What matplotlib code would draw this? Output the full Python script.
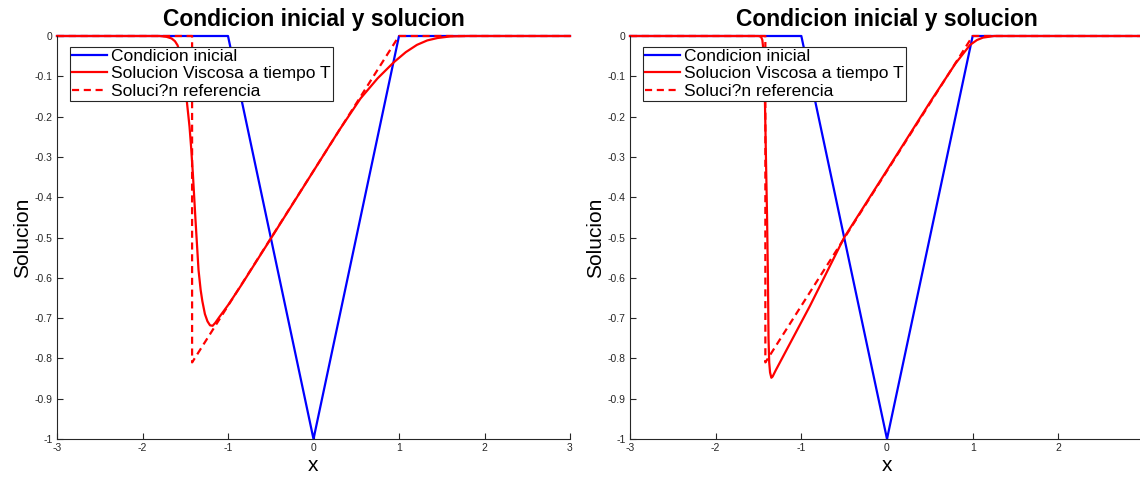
import matplotlib
matplotlib.use("Agg")
import matplotlib.pyplot as plt

plt.rcParams['font.family'] = ['Liberation Sans', 'DejaVu Sans']

# ---- data ----
x_init = [-3, -1, 0, 1, 3]
y_init = [0, 0, -1, 0, 0]

x_ref = [-3, -1.42, -1.42, 1, 3]
y_ref = [0, 0, -0.81, 0, 0]

x_visc_left = [-3, -1.80, -1.72, -1.66, -1.62, -1.59, -1.565, -1.54, -1.51, -1.48, -1.45,
               -1.43, -1.41, -1.38, -1.345, -1.32, -1.30, -1.27, -1.24, -1.21, -1.18,
               -1.15, -1.10, -1.0, -0.85, -0.5, 0, 0.3, 0.55, 0.75, 0.94, 1.08, 1.21,
               1.33, 1.45, 1.6, 1.8, 3]
y_visc_left = [0, 0, -0.002, -0.006, -0.013, -0.023, -0.04, -0.065, -0.11, -0.165, -0.225,
               -0.28, -0.345, -0.457, -0.58, -0.63, -0.658, -0.69, -0.708, -0.718, -0.719,
               -0.712, -0.697, -0.668, -0.62, -0.503, -0.335, -0.234, -0.155, -0.105, -0.065,
               -0.04, -0.022, -0.011, -0.005, -0.001, 0, 0]

x_visc_right = [-3, -1.50, -1.47, -1.455, -1.445, -1.435, -1.425, -1.415, -1.40, -1.39,
                -1.383, -1.375, -1.365, -1.35, -1.335, -1.30, -0.9, -0.5, 0, 0.5, 0.8,
                0.97, 1.05, 1.12, 1.25, 3]
y_visc_right = [0, 0, -0.002, -0.01, -0.03, -0.08, -0.16, -0.28, -0.45, -0.6,
                -0.75, -0.81, -0.835, -0.848, -0.845, -0.83, -0.67, -0.50, -0.333, -0.165,
                -0.068, -0.022, -0.01, -0.004, 0, 0]

labels = ['Condicion inicial', 'Solucion Viscosa a tiempo T', 'Soluci?n referencia']
title = 'Condicion inicial y solucion'
xticks_left = [-3, -2, -1, 0, 1, 2, 3]
xticks_right = [-3, -2, -1, 0, 1, 2]
yticks = [0, -0.1, -0.2, -0.3, -0.4, -0.5, -0.6, -0.7, -0.8, -0.9, -1]
yticklabels = ['0', '-0.1', '-0.2', '-0.3', '-0.4', '-0.5', '-0.6', '-0.7', '-0.8', '-0.9', '-1']

W, H = 1140, 479
fig = plt.figure(figsize=(W / 100, H / 100), dpi=100)

def px_axes(l, t, r, b):
    return [l / W, 1 - b / H, (r - l) / W, (b - t) / H]

axes = [fig.add_axes(px_axes(57, 36, 570, 439)),
        fig.add_axes(px_axes(630, 36, 1144, 439))]
viscs = [(x_visc_left, y_visc_left), (x_visc_right, y_visc_right)]
xtick_sets = [xticks_left, xticks_right]

for ax, (xv, yv), xt in zip(axes, viscs, xtick_sets):
    h1, = ax.plot(x_init, y_init, color='#0000ff', lw=1.6, clip_on=False)
    h2, = ax.plot(xv, yv, color='#ff0000', lw=1.6, clip_on=False)
    h3, = ax.plot(x_ref, y_ref, color='#ff0000', lw=1.6, ls=(0, (3.2, 2.1)), clip_on=False)
    ax.set_xlim(-3, 3)
    ax.set_ylim(-1, 0)
    ax.set_xticks(xt)
    ax.set_xticklabels([str(v) for v in xt])
    ax.set_yticks(yticks)
    ax.set_yticklabels(yticklabels)
    ax.tick_params(direction='in', length=4.5, width=0.8, labelsize=7.5,
                   colors='#262626', top=False, right=False, pad=3)
    ax.spines['top'].set_visible(False)
    ax.spines['right'].set_visible(False)
    for s in ('left', 'bottom'):
        ax.spines[s].set_color('#262626')
        ax.spines[s].set_linewidth(0.8)
    ax.set_title(title, fontsize=16.5, fontweight='bold', pad=7)
    ax.set_xlabel('x', fontsize=15, labelpad=2)
    ax.set_ylabel('Solucion', fontsize=15, labelpad=2)
    leg = ax.legend([h1, h2, h3], labels, loc='upper left',
                    bbox_to_anchor=(13 / 513, 1 - 11 / 403), borderaxespad=0,
                    fontsize=12.5, fancybox=False, framealpha=1, edgecolor='#262626',
                    handlelength=2.0, handletextpad=0.25, labelspacing=0.12,
                    borderpad=0.12)
    leg.get_frame().set_linewidth(0.8)

fig.savefig('out.png', dpi=100)
